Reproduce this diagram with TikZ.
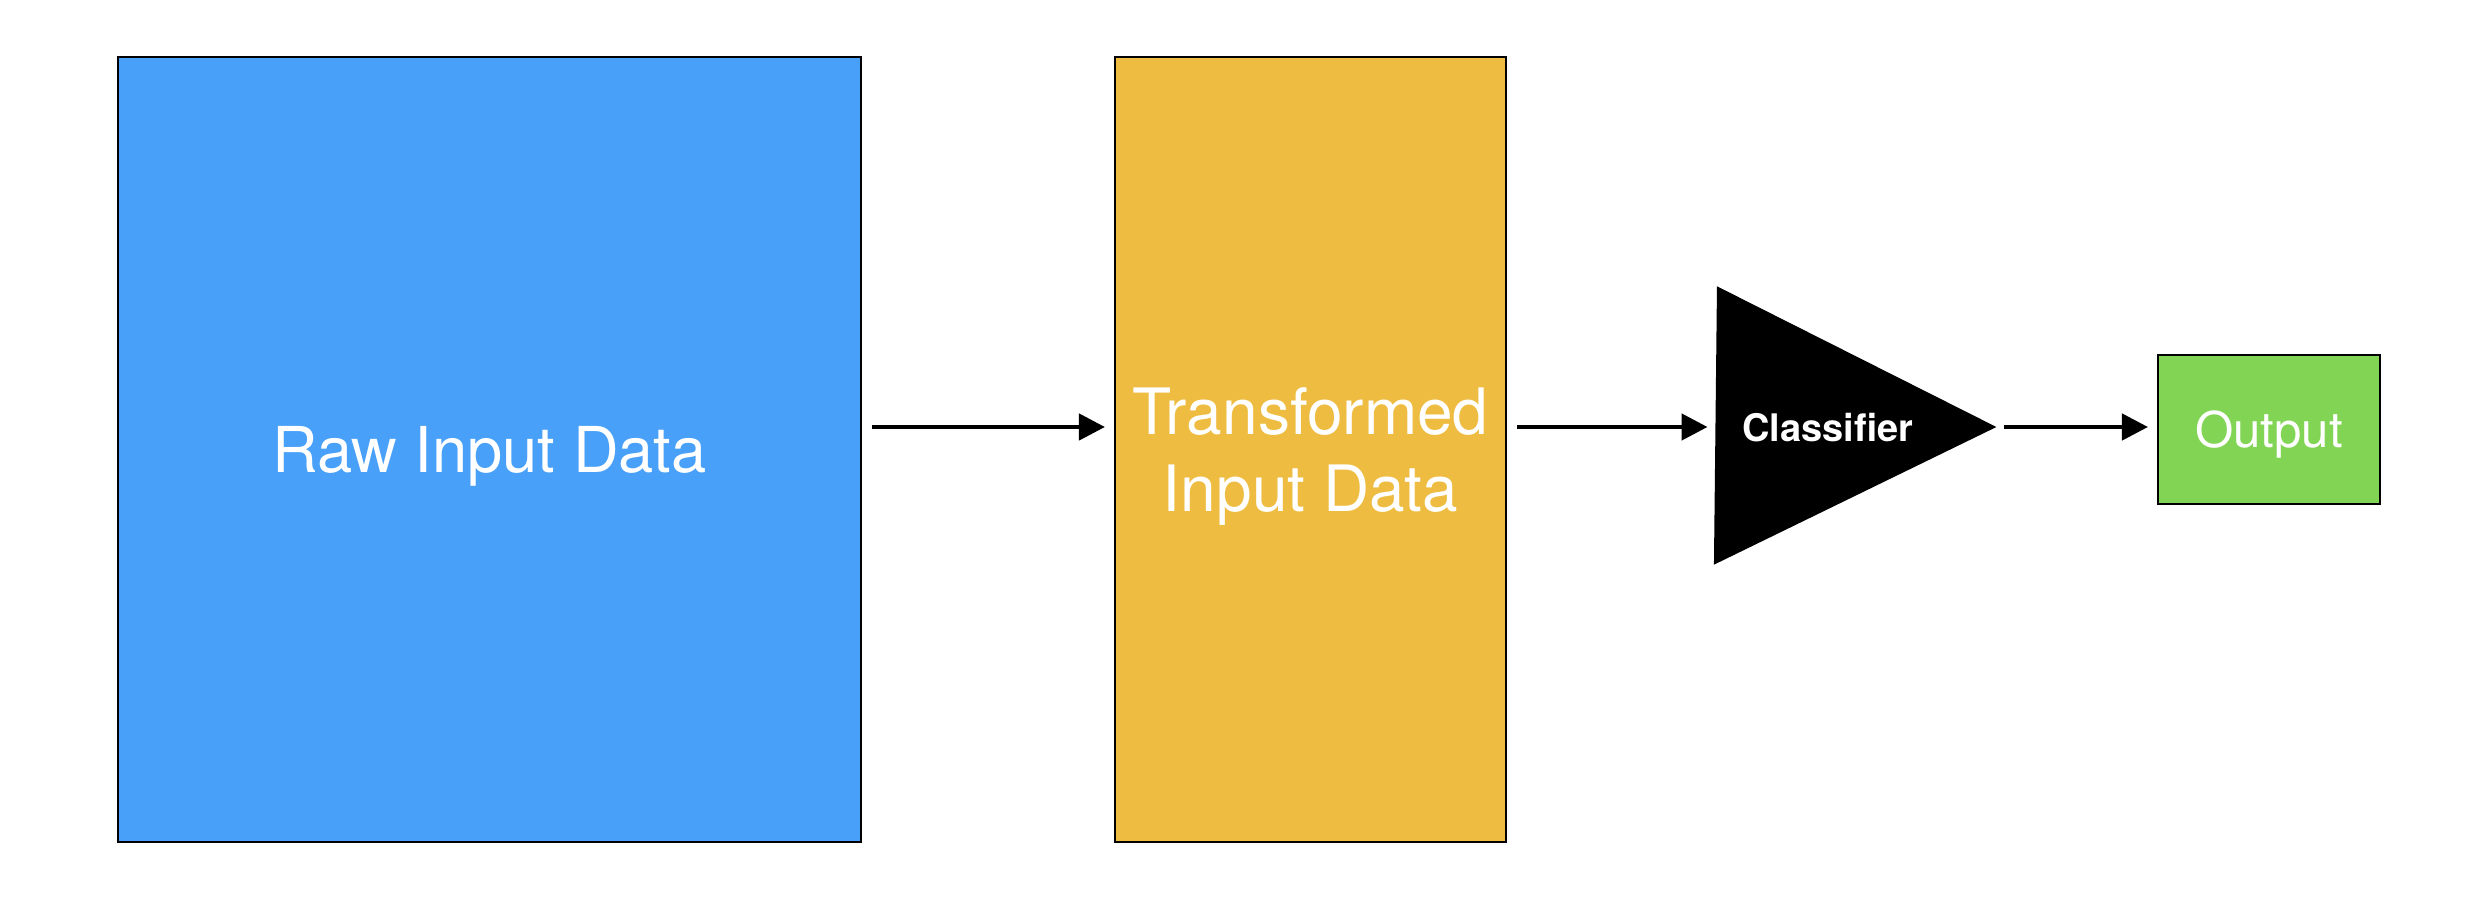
\documentclass[tikz,border=0pt]{standalone}
\usepackage{fontspec}
\setmainfont{TeX Gyre Heros}
\usetikzlibrary{arrows.meta}

\definecolor{rawblue}{RGB}{72,160,248}
\definecolor{tfyellow}{RGB}{238,188,64}
\definecolor{outgreen}{RGB}{130,212,84}

\tikzset{
  databox/.style={draw, line width=0.6pt, text=white, inner sep=0pt, align=center, text depth=0pt},
  link/.style={line width=1.3pt, -{Triangle[length=0.26cm, width=0.26cm]}, shorten <=0.1cm, shorten >=0.09cm}
}

\begin{document}
\begin{tikzpicture}
\useasboundingbox (0,0) rectangle (24.72,9.12);
\node[databox, fill=rawblue, minimum width=7.43cm, minimum height=7.85cm, font=\fontsize{18}{22}\selectfont] (raw) at (4.895,4.625) {Raw Input Data};
\node[databox, fill=tfyellow, minimum width=3.91cm, minimum height=7.85cm, font=\fontsize{18.2}{22}\selectfont] (transformed) at (13.105,4.625) {Transformed\\Input Data};
\coordinate (clsTop) at (17.18,6.24);
\coordinate (clsBottom) at (17.15,3.49);
\coordinate (clsOut) at (19.94,4.85);
\coordinate (clsIn) at (17.165,4.85);
\filldraw[line width=0.6pt] (clsTop) -- (clsOut) -- (clsBottom) -- cycle;
\node[text=white, font=\fontsize{10.8}{13}\selectfont\bfseries] (classifier) at (18.28,4.84) {Classifier};
\node[databox, fill=outgreen, minimum width=2.22cm, minimum height=1.49cm, font=\fontsize{14}{16}\selectfont] (output) at (22.69,4.825) {Output};
\draw[link] (raw.east |- clsIn) -- (transformed.west |- clsIn);
\draw[link] (transformed.east |- clsIn) -- (clsIn);
\draw[link] (clsOut) -- (output.west |- clsOut);
\end{tikzpicture}
\end{document}
